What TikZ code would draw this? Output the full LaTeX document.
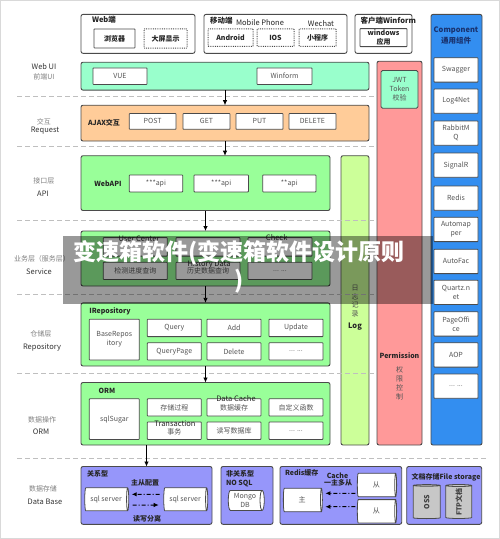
\documentclass[tikz,border=0pt]{standalone}
\usepackage{fontspec}
\setmainfont{Noto Sans CJK SC}
\usetikzlibrary{arrows.meta,shapes.geometric,calc}
\definecolor{mint}{RGB}{153,255,204}
\definecolor{peach}{RGB}{255,204,153}
\definecolor{lgreen}{RGB}{153,255,153}
\definecolor{logcol}{RGB}{204,255,153}
\definecolor{permc}{RGB}{255,153,153}
\definecolor{compc}{RGB}{51,142,240}
\definecolor{purp}{RGB}{150,150,250}
\definecolor{edge}{RGB}{75,75,75}
\definecolor{txt}{RGB}{85,85,85}
\definecolor{navy}{RGB}{25,50,110}
\newcommand\mybox[7]{\node[#1, anchor=north west, minimum width={(#5-#3)*1pt}, minimum height={(#6-#4)*1pt}] (#2) at (#3,#4) {#7};}
\tikzset{
  base/.style={inner sep=0pt, outer sep=0pt, align=center, font=\fontsize{7pt}{9pt}\selectfont},
  layer/.style={base, draw=edge, line width=0.9pt, rounded corners=2pt},
  topbox/.style={layer, fill=white},
  wbox/.style={base, draw=edge, fill=white, line width=0.8pt, rounded corners=0.6pt, text=txt},
  bwbox/.style={wbox, text=black!85, font=\fontsize{7pt}{8.5pt}\selectfont\bfseries},
  dbox/.style={bwbox, densely dotted, line width=1pt},
  lab/.style={base, text=black!85, font=\fontsize{7.5pt}{9pt}\selectfont},
  blab/.style={base, text=black!85, font=\fontsize{7.5pt}{9pt}\selectfont\bfseries},
  llab/.style={base, text=black!80, font=\fontsize{7.5pt}{9pt}\selectfont},
  clab/.style={base, text=black!50, font=\fontsize{7pt}{9pt}\selectfont},
  sep/.style={draw=black!25, line width=0.8pt, dash pattern=on 5pt off 3pt},
  arr/.style={-{Latex[length=5pt,width=4.5pt]}, line width=0.8pt, black},
  dd/.style={-{Latex[length=5pt,width=4.5pt]}, line width=1pt, black, dash pattern=on 4pt off 2pt on 1pt off 2pt},
  cyl/.style={base, cylinder, draw=edge, fill=white, line width=0.8pt, aspect=0.3, text=txt},
  vcyl/.style={cyl, shape border rotate=90, fill=black!22, text=black!75, font=\fontsize{7pt}{9pt}\selectfont\bfseries},
}
\begin{document}
\begin{tikzpicture}[x=1pt,y=-1pt]
\useasboundingbox (0,0) rectangle (500,539);
\draw[black!15, line width=0.8pt] (0.5,0.5) rectangle (499.5,538.5);

% ---------- top clients ----------
\mybox{topbox}{web}{81}{14.4}{195}{53.3}{}
\node[blab, anchor=west] (webt) at (92,20) {Web端};
\mybox{bwbox}{browser}{94}{28.9}{135}{48}{浏览器}
\mybox{dbox}{bigscreen}{144}{28.9}{187}{48}{大屏显示}

\mybox{topbox}{mobile}{204}{14.4}{347}{53.3}{}
\node[blab, anchor=west] (mobt) at (210,20.6) {移动端};
\node[lab] (mobp) at (260,22.7) {Mobile Phone};
\node[lab] (wech) at (321,23.7) {Wechat};
\mybox{dbox}{android}{208}{28.9}{253}{46.4}{Android}
\mybox{dbox}{ios}{257}{28.9}{294}{46.4}{IOS}
\mybox{dbox}{mini}{299}{28.9}{336}{46.4}{小程序}

\mybox{topbox}{client}{355}{14.4}{412}{53.3}{}
\node[blab, anchor=west] (clit) at (360.5,20.6) {客户端Winform};
\mybox{bwbox}{winapp}{360}{28.6}{407}{46.6}{windows\\应用}

% ---------- component column ----------
\mybox{layer, fill=compc, draw=black!70}{compo}{431}{14.4}{482}{445}{}
\node[base, text=navy, font=\fontsize{7.5pt}{11.7pt}\selectfont\bfseries] (compt) at (456,35.5) {Component\\通用组件};
\foreach \n/\yy/\tx in {1/57.8/Swagger, 2/89/Log4Net, 3/121/{RabbitM\\Q}, 4/153/SignalR, 5/186/Redis, 6/217.3/{Automap\\per}, 7/249.3/AutoFac, 8/280.2/{Quartz.n\\et}, 9/311.8/{PageOffi\\ce}, 10/342.8/AOP, 11/374/{... ...}}{
  \mybox{wbox}{c\n}{434}{\yy}{478}{\yy+24.3}{\tx}
}

% ---------- permission column ----------
\mybox{layer, fill=permc}{perm}{377}{61.2}{422}{445}{}
\mybox{wbox, fill=mint, rounded corners=1.5pt}{jwt}{381}{70.5}{418}{108.3}{JWT\\Token\\校验}
\node[blab, font=\fontsize{7pt}{9pt}\selectfont\bfseries] (permt) at (399.5,355.8) {Permission};
\node[base, text=txt, font=\fontsize{7pt}{8.9pt}\selectfont] (permc) at (399.5,383) {权\\限\\控\\制};

% ---------- log column ----------
\mybox{layer, fill=logcol}{logc}{341}{155.7}{369}{445}{}
\node[base, text=txt, font=\fontsize{7pt}{8.7pt}\selectfont] (logz) at (355,301) {日\\志\\记\\录};
\node[blab] (logt) at (355,326.6) {Log};

% ---------- separators ----------
\foreach \yy in {95.9,146.5,220.4,294.6,373}{\draw[sep] (17,\yy) -- (375,\yy);}
\draw[sep] (17,458) -- (487,458);

% ---------- left labels ----------
\node[llab] (l1a) at (44,67) {Web UI};
\node[clab] (l1b) at (44,77) {前端UI};
\node[clab] (l2a) at (44,122) {交互};
\node[llab] (l2b) at (45,131) {Request};
\node[clab] (l3a) at (44,181) {接口层};
\node[llab] (l3b) at (43,194) {API};
\node[clab] (l4a) at (42,258.5) {业务层（服务层）};
\node[llab] (l4b) at (39,271.6) {Service};
\node[clab] (l5a) at (41,334.2) {仓储层};
\node[llab] (l5b) at (42,347.2) {Repository};
\node[clab] (l6a) at (42,419.4) {数据操作};
\node[llab] (l6b) at (41,432) {ORM};
\node[clab] (l7a) at (43,489) {数据存储};
\node[llab] (l7b) at (45,502) {Data Base};

% ---------- Web UI ----------
\mybox{layer, fill=mint}{webui}{81}{62.2}{369}{90.1}{}
\mybox{wbox}{vue}{93}{67.9}{147}{84.5}{VUE}
\mybox{wbox}{winf}{257}{67.9}{312}{84.5}{Winform}

% ---------- Request ----------
\mybox{layer, fill=peach}{req}{81}{105.2}{369}{141}{}
\node[blab, font=\fontsize{7pt}{9pt}\selectfont\bfseries] (ajax) at (104,122.3) {AJAX交互};
\mybox{wbox}{post}{129.3}{113.5}{176}{129.3}{POST}
\mybox{wbox}{get}{183}{113.5}{230}{129.3}{GET}
\mybox{wbox}{put}{236}{113.5}{283}{129.3}{PUT}
\mybox{wbox}{del}{289}{113.5}{336}{129.3}{DELETE}

% ---------- API ----------
\mybox{layer, fill=lgreen}{api}{81}{155.7}{330}{210.5}{}
\node[blab, font=\fontsize{7pt}{9pt}\selectfont\bfseries] (webapi) at (108,184) {WebAPI};
\mybox{wbox}{api1}{129.3}{175}{182.7}{191.9}{***api}
\mybox{wbox}{api2}{194}{175}{248.5}{191.9}{***api}
\mybox{wbox}{api3}{262.7}{175}{316}{191.9}{**api}

% ---------- Service ----------
\mybox{layer, fill=lgreen}{svc}{81}{231}{330}{286}{}
\mybox{wbox}{s1}{103.3}{237.6}{167.3}{256.1}{}
\mybox{wbox}{s2}{176}{237.6}{240}{256.1}{}
\mybox{wbox}{s3}{248}{237.6}{312}{256.1}{}
\mybox{wbox}{s4}{103.3}{262.3}{167.3}{279.5}{检测进度查询}
\mybox{wbox}{s5}{176}{262.3}{240}{279.5}{历史数据查询}
\mybox{wbox}{s6}{248}{262.3}{312}{279.5}{... ...}
\node[lab] (uc) at (139,238.3) {User Center};
\node[lab] (chk) at (276.7,237.2) {Check};
\node[lab] (hd) at (209,264) {History Data};

% ---------- Repository ----------
\mybox{layer, fill=lgreen}{repo}{81}{302.9}{330}{366}{}
\node[blab, font=\fontsize{7pt}{9pt}\selectfont\bfseries, anchor=west] (irepo) at (89.3,311.5) {IRepository};
\mybox{wbox}{baserepo}{89.3}{319.2}{139.3}{360}{BaseRepos\\itory}
\mybox{wbox}{query}{147.3}{319.2}{201.3}{336.6}{Query}
\mybox{wbox}{add}{207}{319.2}{261}{336.6}{Add}
\mybox{wbox}{upd}{269}{319.2}{323}{336.6}{Update}
\mybox{wbox}{qpage}{147.3}{342.8}{201.3}{360}{QueryPage}
\mybox{wbox}{delt}{207}{342.8}{261}{360}{Delete}
\mybox{wbox}{rmore}{269}{342.8}{323}{360}{... ...}

% ---------- ORM ----------
\mybox{layer, fill=lgreen}{orm}{81}{382.5}{330}{445}{}
\node[blab, font=\fontsize{7pt}{9pt}\selectfont\bfseries, anchor=west] (ormt) at (98.7,391) {ORM};
\mybox{wbox}{sqls}{89.3}{398.8}{139.3}{439.4}{sqlSugar}
\mybox{wbox}{proc}{147.3}{398.8}{201.3}{416}{存储过程}
\mybox{wbox}{cache}{207}{398.8}{261}{416}{数据缓存}
\mybox{wbox}{func}{269}{398.8}{323}{416}{自定义函数}
\mybox{wbox}{trans}{147.3}{422}{201.3}{439.4}{\\[-1pt]事务}
\mybox{wbox}{rw}{207}{422}{261}{439.4}{读写数据库}
\mybox{wbox}{omore}{269}{422}{323}{439.4}{... ...}
\node[lab] (dct) at (236,398.8) {Data Cache};
\node[lab] (trt) at (175,423.6) {Transaction};

% ---------- layer arrows ----------
\draw[arr] (webui.south) -- (req.north);
\draw[arr] (req.south) -- (req.south |- api.north);
\draw[arr] (api.south) -- (svc.north);
\draw[arr] (svc.south) -- (repo.north);
\draw[arr] (repo.south) -- (orm.north);

% ---------- Data Base ----------
\mybox{layer, fill=purp}{rel}{81}{466.5}{212}{524.3}{}
\draw[arr] (orm.south -| rel.north) -- (rel.north);
\node[blab, font=\fontsize{7pt}{9pt}\selectfont\bfseries, anchor=west] (relt) at (87,473.8) {关系型};
\node[cyl, minimum height=44pt, minimum width=23pt] (sql1) at (106,499.3) {sql server};
\node[cyl, minimum height=44pt, minimum width=23pt] (sql2) at (185,499.3) {sql server};
\node[blab, font=\fontsize{7pt}{9pt}\selectfont\bfseries] (msc) at (145,482.7) {主从配置};
\node[blab, font=\fontsize{7pt}{9pt}\selectfont\bfseries] (rws) at (147,518.5) {读写分离};
\draw[dd] ($(sql2.west)+(-4,-5)$) -- ($(sql1.east)+(3,-5)$);
\draw[dd] ($(sql1.east)+(4,5.7)$) -- ($(sql2.west)+(-5,5.7)$);

\mybox{layer, fill=purp}{nosql}{221}{466.5}{273}{524.3}{}
\node[blab, font=\fontsize{7pt}{9pt}\selectfont\bfseries, anchor=west] (nost1) at (226,474) {非关系型};
\node[blab, font=\fontsize{7pt}{9pt}\selectfont\bfseries, anchor=west] (nost2) at (226,483.3) {NO SQL};
\node[cyl, minimum height=36pt, minimum width=20pt] (mongo) at (245,500.4) {Mongo\\DB};

\mybox{layer, fill=purp}{redis}{280}{466.5}{401.7}{524.3}{}
\node[blab, font=\fontsize{7pt}{9pt}\selectfont\bfseries, anchor=west] (redt) at (285,473.3) {Redis缓存};
\node[blab, font=\fontsize{7pt}{9pt}\selectfont\bfseries] (cachet) at (337.5,476) {Cache};
\node[blab, font=\fontsize{7pt}{9pt}\selectfont\bfseries] (ycdc) at (338,483.3) {一主多从};
\node[cyl, minimum height=39pt, minimum width=23.4pt] (zhu) at (302.2,500) {主};
\node[cyl, minimum height=39.3pt, minimum width=23.4pt] (cong1) at (376.3,485) {从};
\node[cyl, minimum height=39.3pt, minimum width=23.4pt] (cong2) at (376.3,511.3) {从};
\draw[dd] ($(cong1.west)+(-2,8.3)$) -- ($(zhu.east)+(3,-6.7)$);
\draw[dd] ($(cong2.west)+(-2,-4.6)$) -- ($(zhu.east)+(3,6.7)$);

\mybox{layer, fill=purp}{file}{406.7}{466.5}{481.7}{524.3}{}
\node[blab, font=\fontsize{7pt}{9pt}\selectfont\bfseries, anchor=west] (filet) at (411.5,477.7) {文档存储File storage};
\node[vcyl, minimum width=27pt, minimum height=34pt] (oss) at (426.7,502.2) {\rotatebox{90}{OSS}};
\node[vcyl, minimum width=26pt, minimum height=34pt] (ftp) at (458.8,502.2) {\rotatebox{90}{FTP文档}};

% ---------- watermark banner ----------
\fill[black, opacity=0.4] (63,235.5) rectangle (433,303.6);
\node[base, text=white, font=\fontsize{23pt}{28.5pt}\selectfont\bfseries] (wm) at (239,267) {变速箱软件(变速箱软件设计原则\\)};
\end{tikzpicture}
\end{document}
